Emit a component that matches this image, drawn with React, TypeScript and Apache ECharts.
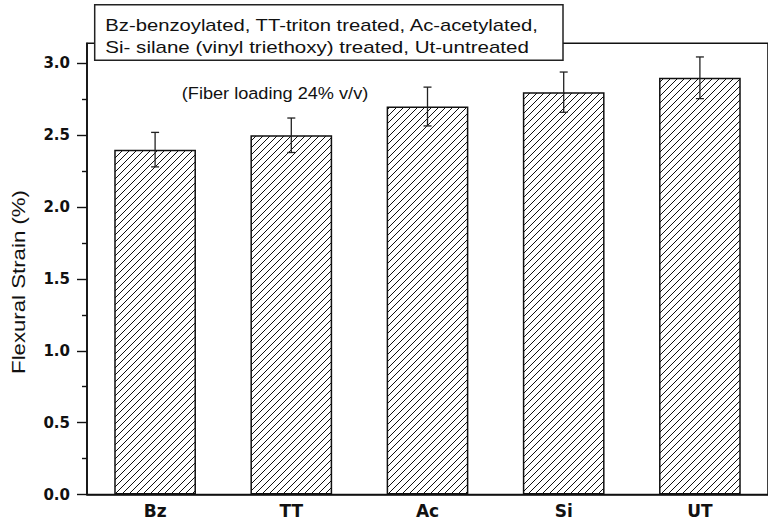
import React, { useEffect, useRef } from "react";
import * as echarts from "echarts";

const categories = ["Bz", "TT", "Ac", "Si", "UT"];
const strainValues = [2.4, 2.5, 2.7, 2.8, 2.9];
const strainErrors = [0.12, 0.12, 0.135, 0.14, 0.145];
const majorTicks = [0, 0.5, 1.0, 1.5, 2.0, 2.5, 3.0];
const minorTicks = [0.25, 0.75, 1.25, 1.75, 2.25, 2.75];
const legendLines = [
  "Bz-benzoylated, TT-triton treated, Ac-acetylated,",
  "Si- silane (vinyl triethoxy) treated, Ut-untreated",
];
const noteText = "(Fiber loading 24% v/v)";
const yAxisTitle = "Flexural Strain (%)";

function makeHatch() {
  const s = 7;
  const c = document.createElement("canvas");
  c.width = s;
  c.height = s;
  const ctx = c.getContext("2d")!;
  ctx.fillStyle = "#ffffff";
  ctx.fillRect(0, 0, s, s);
  ctx.strokeStyle = "#111111";
  ctx.lineWidth = 1;
  ctx.beginPath();
  ctx.moveTo(-1, s + 1);
  ctx.lineTo(s + 1, -1);
  ctx.moveTo(-1, 1);
  ctx.lineTo(1, -1);
  ctx.moveTo(s - 1, s + 1);
  ctx.lineTo(s + 1, s - 1);
  ctx.stroke();
  return { image: c, repeat: "repeat", imageWidth: s, imageHeight: s } as any;
}

export default function App() {
  const ref = useRef<HTMLDivElement>(null);
  useEffect(() => {
    if (!ref.current) return;
    const chart = echarts.init(ref.current, null, { renderer: "svg" });
    const errData = strainValues.map((v, i) => [i, v - strainErrors[i], v + strainErrors[i]]);
    const axisColor = "#111";
    chart.setOption({
      animation: false,
      backgroundColor: "#ffffff",
      grid: {
        left: 87,
        top: 43.3,
        width: 688.75,
        height: 451.2,
        show: true,
        borderColor: axisColor,
        borderWidth: 1.6,
        backgroundColor: "transparent",
      },
      xAxis: {
        type: "category",
        data: categories,
        axisLine: { show: true, lineStyle: { color: axisColor, width: 1.6 } },
        axisTick: { show: false },
        axisLabel: {
          color: "#111",
          fontFamily: "DejaVu Sans",
          fontWeight: "bold",
          fontSize: 17,
          margin: 8,
        },
      },
      yAxis: [
        {
          type: "value",
          min: 0,
          max: 3.14,
          splitLine: { show: false },
          axisLine: { show: true, lineStyle: { color: axisColor, width: 1.6 } },
          axisTick: {
            show: true,
            inside: false,
            length: 10,
            customValues: majorTicks,
            lineStyle: { color: axisColor, width: 1.4 },
          },
          axisLabel: {
            customValues: majorTicks,
            formatter: (v: number) => v.toFixed(1),
            color: "#111",
            fontFamily: "DejaVu Sans",
            fontWeight: "bold",
            fontSize: 15,
            margin: 17,
          },
        },
        {
          type: "value",
          min: 0,
          max: 3.14,
          position: "left",
          splitLine: { show: false },
          axisLine: { show: false },
          axisTick: {
            show: true,
            inside: false,
            length: 5,
            customValues: minorTicks,
            lineStyle: { color: axisColor, width: 1.4 },
          },
          axisLabel: { show: false },
        },
      ],
      series: [
        {
          type: "bar",
          data: strainValues,
          barWidth: "60%",
          itemStyle: {
            color: makeHatch(),
            borderColor: "#111",
            borderWidth: 1.5,
          },
        },
        {
          type: "custom",
          data: errData,
          z: 10,
          renderItem: (params: any, api: any) => {
            const x = api.value(0);
            const lo = api.coord([x, api.value(1)]);
            const hi = api.coord([x, api.value(2)]);
            const cap = 4;
            const style = { stroke: "#222", lineWidth: 1.3 };
            return {
              type: "group",
              children: [
                { type: "line", shape: { x1: hi[0], y1: hi[1], x2: lo[0], y2: lo[1] }, style },
                { type: "line", shape: { x1: hi[0] - cap, y1: hi[1], x2: hi[0] + cap, y2: hi[1] }, style },
                { type: "line", shape: { x1: lo[0] - cap, y1: lo[1], x2: lo[0] + cap, y2: lo[1] }, style },
              ],
            };
          },
        },
      ],
      graphic: [
        {
          type: "rect",
          shape: { x: 94.7, y: 4.7, width: 468.3, height: 55.6 },
          style: { fill: "#ffffff", stroke: "#222", lineWidth: 1.5 },
          z: 100,
        },
        {
          type: "text",
          x: 105.3,
          y: 25.5,
          scaleX: 1.265,
          z: 101,
          style: {
            text: legendLines[0],
            fill: "#111",
            font: "16px 'Liberation Sans'",
            textVerticalAlign: "middle",
          },
        },
        {
          type: "text",
          x: 105.3,
          y: 47.7,
          scaleX: 1.285,
          z: 101,
          style: {
            text: legendLines[1],
            fill: "#111",
            font: "16px 'Liberation Sans'",
            textVerticalAlign: "middle",
          },
        },
        {
          type: "text",
          x: 275,
          y: 93.3,
          scaleX: 1.1,
          z: 101,
          style: {
            text: noteText,
            fill: "#111",
            font: "16.5px 'Liberation Sans'",
            textAlign: "center",
            textVerticalAlign: "middle",
          },
        },
        {
          type: "text",
          x: 18,
          y: 282,
          rotation: Math.PI / 2,
          scaleX: 1.17,
          z: 101,
          style: {
            text: yAxisTitle,
            fill: "#111",
            font: "19px 'Liberation Sans'",
            textAlign: "center",
            textVerticalAlign: "middle",
          },
        },
      ],
    });
    return () => chart.dispose();
  }, []);
  return (
    <div
      ref={ref}
      style={{ position: "fixed", left: 0, top: 0, width: 768, height: 522, background: "#fff" }}
    />
  );
}
